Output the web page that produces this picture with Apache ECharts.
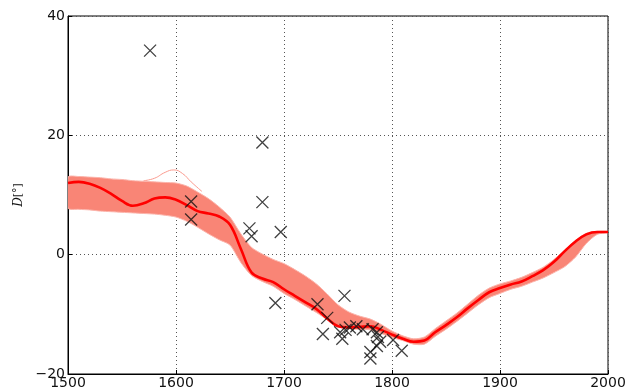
<!DOCTYPE html>
<html>
<head>
<meta charset="utf-8">
<script src="https://cdn.jsdelivr.net/npm/echarts@6/dist/echarts.min.js"></script>
<style>
html,body{margin:0;padding:0;background:#fff;}
#chart{width:641px;height:390px;}
</style>
</head>
<body>
<div id="chart"></div>
<script>
// years for the curve model
var years = [1500,1510,1520,1530,1540,1550,1560,1570,1580,1590,1600,1610,1620,1630,1640,1650,1660,1670,1680,1690,
             1700,1710,1720,1730,1740,1750,1760,1770,1780,1790,1800,1810,1820,1830,1840,1850,1860,1870,1880,1890,
             1900,1910,1920,1930,1940,1950,1960,1970,1980,1990,2000];
var meanD = [12.0,12.2,11.9,11.2,10.2,9.0,8.2,8.6,9.4,9.6,9.2,8.3,7.3,6.9,6.4,5.0,1.0,-3.0,-4.0,-4.6,
             -5.8,-6.9,-8.0,-9.1,-10.7,-12.0,-12.2,-12.1,-12.0,-12.6,-13.4,-14.1,-14.6,-14.4,-13.0,-11.8,-10.5,-9.0,-7.6,-6.3,
             -5.6,-5.0,-4.5,-3.6,-2.6,-1.2,0.6,2.2,3.4,3.8,3.8];
var upperD = [13.0,13.1,13.0,12.9,12.7,12.6,12.4,12.3,12.2,12.1,12.0,11.5,10.5,9.4,8.0,6.3,3.5,1.2,0.1,-0.8,
              -1.5,-2.5,-3.6,-4.9,-6.6,-8.4,-9.6,-10.3,-10.8,-11.7,-12.8,-13.6,-14.1,-13.8,-12.4,-11.1,-9.8,-8.3,-6.8,-5.6,
              -4.9,-4.4,-3.8,-3.0,-2.1,-0.8,0.8,2.4,3.6,3.9,3.9];
var lowerD = [7.8,7.6,7.5,7.3,7.2,7.1,7.0,6.9,6.8,6.6,6.3,5.6,4.6,3.5,2.5,1.6,-1.3,-3.5,-4.5,-5.3,
              -6.5,-7.5,-8.6,-9.7,-10.9,-12.0,-12.4,-12.5,-12.6,-13.2,-13.9,-14.4,-15.0,-15.0,-13.7,-12.5,-11.2,-9.8,-8.4,-7.2,
              -6.5,-5.8,-5.3,-4.6,-3.9,-3.0,-2.0,-0.4,1.9,3.4,3.7];
// one stray ensemble member around 1600
var strayYears = [1570,1580,1590,1598,1606,1614,1624];
var strayD = [12.4,12.8,13.8,14.2,13.6,12.2,10.6];
// observations
var obsYears = [1576,1680,1680,1614,1614,1668,1670,1697,1692,1731,1756,1740,1736,1754,1757,1761,1773,1767,1782,1786,1787,1789,1786,1780,1780,1801,1809,1752];
var obsD = [34.2,18.8,8.8,8.9,5.9,4.4,3.1,3.8,-8.1,-8.3,-6.9,-10.6,-13.3,-14.1,-12.6,-12.2,-12.5,-12.0,-12.5,-13.0,-13.8,-14.6,-15.3,-16.3,-17.4,-14.3,-16.1,-13.0];
var xTicks = [1500,1600,1700,1800,1900,2000];
var yTicks = [-20,0,20,40];

function pairs(xs, ys) {
  return xs.map(function (x, i) { return [x, ys[i]]; });
}

// ensemble envelope drawn as one polygon through the axis scales
function renderBand(params, api) {
  var pts = [];
  for (var i = 0; i < years.length; i++) pts.push(api.coord([years[i], upperD[i]]));
  for (var j = years.length - 1; j >= 0; j--) pts.push(api.coord([years[j], lowerD[j]]));
  return {
    type: 'polygon',
    shape: {points: pts, smooth: 0.25},
    style: {fill: '#f98576', stroke: '#fbb3aa', lineWidth: 1}
  };
}

var myChart = echarts.init(document.getElementById('chart'));
var labelFont = {color: '#111', fontSize: 14, fontFamily: 'DejaVu Sans'};
var option = {
  animation: false,
  grid: {left: 68, right: 33, top: 16, bottom: 15, show: true, borderColor: '#000', borderWidth: 1},
  xAxis: {
    type: 'value', min: xTicks[0], max: xTicks[xTicks.length - 1], interval: 100,
    axisLine: {onZero: false, lineStyle: {color: '#000'}},
    axisTick: {inside: true, length: 4, lineStyle: {color: '#000'}},
    axisLabel: Object.assign({margin: 2, showMinLabel: true, showMaxLabel: true,
      formatter: function (v) { return String(v); }}, labelFont),
    splitLine: {show: true, lineStyle: {color: '#555', type: [1, 3], width: 1}}
  },
  yAxis: {
    type: 'value', min: yTicks[0], max: yTicks[yTicks.length - 1], interval: 20,
    name: '{i|D}[°]', nameLocation: 'middle', nameGap: 42, nameRotate: 90,
    nameTextStyle: {color: '#111', fontSize: 11, fontFamily: 'DejaVu Serif',
      rich: {i: {fontStyle: 'italic', fontSize: 12, fontFamily: 'DejaVu Serif'}}},
    axisLine: {onZero: false, lineStyle: {color: '#000'}},
    axisTick: {inside: true, length: 4, lineStyle: {color: '#000'}},
    axisLabel: Object.assign({margin: 3, formatter: function (v) { return String(v).replace('-', '\u2212'); }}, labelFont),
    splitLine: {show: true, lineStyle: {color: '#555', type: [1, 3], width: 1}}
  },
  series: [
    {
      type: 'custom', renderItem: renderBand, data: [[years[0], upperD[0]]],
      clip: true, silent: true, z: 1
    },
    {
      type: 'line', data: pairs(strayYears, strayD), smooth: 0.5,
      symbol: 'none', lineStyle: {color: '#fa9a8e', width: 1}, z: 2
    },
    {
      type: 'line', data: pairs(years, meanD), smooth: 0.4,
      symbol: 'none', lineStyle: {color: '#ff0000', width: 2.6}, z: 3
    },
    {
      type: 'scatter', data: pairs(obsYears, obsD),
      symbol: 'path://M0,0L10,10M10,0L0,10', symbolSize: 12,
      itemStyle: {color: 'none', borderColor: '#111', borderWidth: 1.3}, z: 4
    }
  ]
};
myChart.setOption(option);
</script>
</body>
</html>
